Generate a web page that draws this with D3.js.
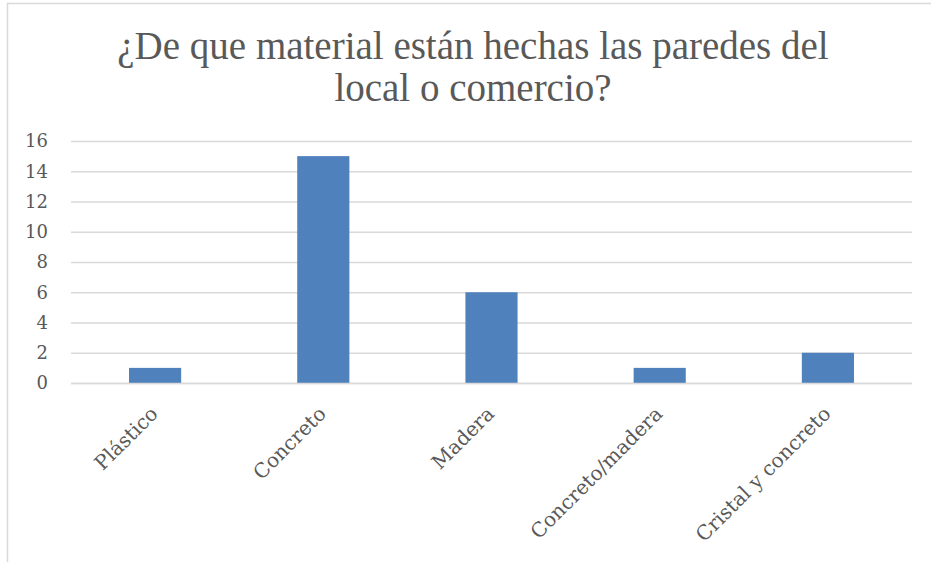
<!DOCTYPE html>
<html>
<head>
<meta charset="utf-8">
<script src="https://cdn.jsdelivr.net/npm/d3@7"></script>
<style>
  body { margin: 0; background: #fff; }
  svg { display: block; }
</style>
</head>
<body>
<svg id="chart" width="931" height="562"></svg>
<script>
const categories = ["Plástico", "Concreto", "Madera", "Concreto/madera", "Cristal y concreto"];
const values = [1, 15, 6, 1, 2];
const yTicks = [0, 2, 4, 6, 8, 10, 12, 14, 16];
const titleLines = ["¿De que material están hechas las paredes del", "local o comercio?"];

const svg = d3.select("#chart");
const titleFont = "'Liberation Serif', serif";
const font = "'DejaVu Serif', serif";
const margin = { top: 141, right: 19, bottom: 179, left: 71 };
const width = 931 - margin.left - margin.right;
const height = 562 - margin.top - margin.bottom;

// chart frame (only top and left edges visible)
svg.append("rect")
	.attr("x", 7.5)
	.attr("y", 3.5)
	.attr("width", 1000)
	.attr("height", 1000)
	.attr("fill", "none")
	.attr("stroke", "#d9d9d9")
	.attr("stroke-width", 1.5);

// Title
svg.append("text")
	.attr("text-anchor", "middle")
	.attr("font-family", titleFont)
	.attr("font-size", 39)
	.attr("fill", "#595959")
	.selectAll("tspan")
	.data(titleLines)
	.enter()
	.append("tspan")
	.attr("x", 473)
	.attr("y", (d, i) => 59 + i * 42)
	.text((d) => d);

const g = svg.append("g").attr("transform", `translate(${margin.left}, ${margin.top})`);

// Scales
const xScale = d3.scaleBand().domain(categories).range([0, width]).paddingInner(0.69).paddingOuter(0.345);
const yScale = d3.scaleLinear().domain([0, 16]).range([height, 0]);

// Gridlines
g.selectAll("line.grid")
	.data(yTicks)
	.enter()
	.append("line")
	.attr("class", "grid")
	.attr("x1", 0)
	.attr("x2", width)
	.attr("y1", (d) => yScale(d) + 0.5)
	.attr("y2", (d) => yScale(d) + 0.5)
	.attr("stroke", "#d9d9d9")
	.attr("stroke-width", 1.3);

// Y axis labels
const yAxis = g.append("g")
	.call(d3.axisLeft(yScale).tickValues(yTicks).tickSize(0).tickPadding(23));
yAxis.select(".domain").remove();
yAxis.selectAll("text")
	.attr("font-family", font)
	.attr("font-size", 18)
	.attr("fill", "#595959");

// Bars
g.selectAll("rect.bar")
	.data(values)
	.enter()
	.append("rect")
	.attr("class", "bar")
	.attr("x", (d, i) => xScale(categories[i]))
	.attr("y", (d) => yScale(d))
	.attr("width", xScale.bandwidth())
	.attr("height", (d) => height - yScale(d))
	.attr("fill", "#4f81bd");

// X axis baseline
g.append("line")
	.attr("x1", 0)
	.attr("x2", width)
	.attr("y1", height + 0.5)
	.attr("y2", height + 0.5)
	.attr("stroke", "#d9d9d9")
	.attr("stroke-width", 1.5);

// X labels rotated
const xAxis = g.append("g")
	.attr("transform", `translate(0, ${height})`)
	.call(d3.axisBottom(xScale).tickSize(0).tickPadding(0));
xAxis.select(".domain").remove();
xAxis.selectAll("text")
	.attr("font-family", font)
	.attr("font-size", 20)
	.attr("fill", "#595959")
	.style("text-anchor", "end")
	.attr("dy", 0)
	.attr("transform", "translate(4, 32) rotate(-45)");
</script>
</body>
</html>
